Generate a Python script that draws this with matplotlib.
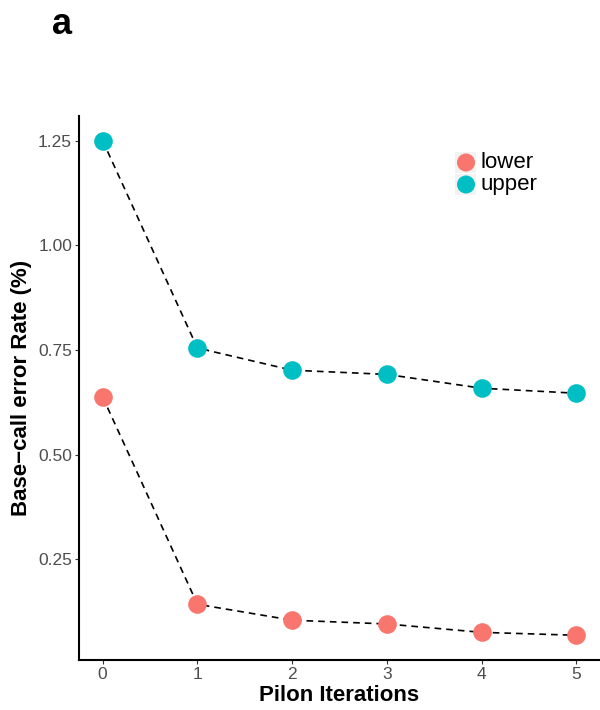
import matplotlib
matplotlib.use("Agg")
import matplotlib.pyplot as plt
from matplotlib.patches import Rectangle, Ellipse

iterations = [0, 1, 2, 3, 4, 5]
lower = [0.638, 0.143, 0.105, 0.096, 0.076, 0.069]
upper = [1.25, 0.755, 0.702, 0.692, 0.659, 0.647]
series_names = ["lower", "upper"]
colors = ["#F8766D", "#00BFC4"]
yticks = [0.25, 0.50, 0.75, 1.00, 1.25]
ytick_labels = ["0.25", "0.50", "0.75", "1.00", "1.25"]

plt.rcParams['font.family'] = ['Liberation Sans', 'DejaVu Sans']

W, H = 600, 710
fig = plt.figure(figsize=(6, 7.1), dpi=100)
ax = fig.add_axes([79/W, 1 - 660/H, 521/W, 544/H])

for vals, c in zip([lower, upper], colors):
    ax.plot(iterations, vals, linestyle=(0, (4, 3)), color="black", linewidth=1.2, zorder=1)
    ax.scatter(iterations, vals, s=180, color=c, zorder=2, linewidths=0)

allv = lower + upper
rng = max(allv) - min(allv)
ax.set_ylim(min(allv) - 0.05 * rng, max(allv) + 0.05 * rng)
ax.set_xlim(-0.25, 5.25)
ax.set_yticks(yticks)
ax.set_yticklabels(ytick_labels)
ax.set_xticks(iterations)
ax.tick_params(labelsize=12.5, labelcolor="#4D4D4D", length=3, color="#333333", pad=2)
for s in ["top", "right"]:
    ax.spines[s].set_visible(False)
for s in ["left", "bottom"]:
    ax.spines[s].set_linewidth(1.5)

ax.set_xlabel("Pilon Iterations", fontsize=16, fontweight="bold", labelpad=2)
ax.set_ylabel("Base\u2212call error Rate (%)", fontsize=16, fontweight="bold", labelpad=4)

# manual legend (figure pixel coordinates -> fractions)
key_cy = [162.5, 184.5]
for name, c, cy in zip(series_names, colors, key_cy):
    fig.add_artist(Rectangle((455/W, 1 - (cy + 10.5)/H), 21/W, 21/H,
                             transform=fig.transFigure, facecolor="#F2F2F2", edgecolor="none"))
    fig.add_artist(Ellipse((466/W, 1 - cy/H), 18/W, 18/H, transform=fig.transFigure,
                           facecolor=c, edgecolor="none"))
    fig.text(481/W, 1 - cy/H, name, fontsize=16, va="center", ha="left")

fig.text(52/W, 1 - 24/H, "a", fontsize=26, fontweight="bold", va="center")

fig.savefig("out.png", dpi=100)
